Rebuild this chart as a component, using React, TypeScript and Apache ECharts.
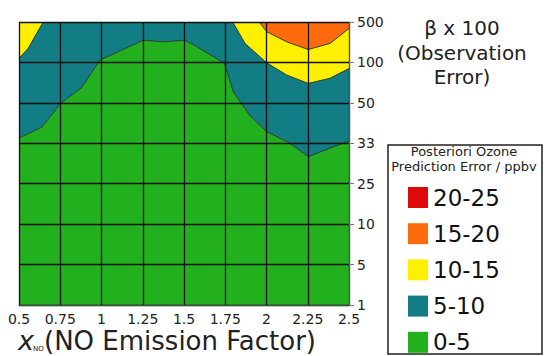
import React, { useEffect, useRef } from "react";
import * as echarts from "echarts";

// y tick labels (beta x 100), evenly spaced categories
const yTickLabels = ["1", "5", "10", "25", "33", "50", "100", "500"];
const legendLabels = ["20-25", "15-20", "10-15", "5-10", "0-5"];
const legendColors = ["#dc0a0a", "#ff6a0c", "#fff000", "#137d85", "#22b01e"];

// contour boundaries [x (NO emission factor), y (index on beta axis)]
const contour5: number[][] = [
  [0.5, 4.13], [0.639, 4.4], [0.753, 4.99], [0.88, 5.38], [0.991, 6.06],
  [1.253, 6.55], [1.375, 6.51], [1.506, 6.55], [1.577, 6.39], [1.745, 5.98],
  [1.799, 5.27], [1.9, 4.68], [2.001, 4.29], [2.142, 4.0], [2.253, 3.67],
  [2.385, 3.88], [2.5, 4.06],
];
const contour10Left: number[][] = [
  [0.5, 6.1], [0.556, 6.35], [0.607, 6.72], [0.647, 7],
];
const contour10Right: number[][] = [
  [1.795, 7], [1.87, 6.47], [2.001, 5.99], [2.122, 5.69], [2.253, 5.48],
  [2.385, 5.61], [2.5, 5.85],
];
const contour15: number[][] = [
  [1.956, 7], [2.001, 6.76], [2.122, 6.51], [2.253, 6.32], [2.385, 6.47],
  [2.5, 6.84],
];

const FONT = "DejaVu Sans";
const LINE = "#233023";

function area(name: string, data: number[][], color: string, origin: string, showLine: boolean) {
  return {
    type: "line",
    name,
    data,
    symbol: "none",
    showSymbol: false,
    smooth: false,
    lineStyle: { color: LINE, width: showLine ? 1 : 0, opacity: showLine ? 0.9 : 0 },
    itemStyle: { color },
    areaStyle: { color, opacity: 1, origin },
    z: 2,
    silent: true,
  };
}

export default function App() {
  const ref = useRef<HTMLDivElement>(null);
  useEffect(() => {
    document.body.style.margin = "0";
    const chart = echarts.init(ref.current!, null, { renderer: "svg" });
    const option: any = {
      animation: false,
      grid: { left: 19, right: 195, top: 22, bottom: 51, containLabel: false },
      xAxis: {
        type: "value",
        min: 0.5,
        max: 2.5,
        interval: 0.25,
        z: 10,
        axisLine: { show: true, lineStyle: { color: "#444", width: 1 } },
        axisTick: { show: false },
        axisLabel: { fontFamily: FONT, fontSize: 14, color: "#222", margin: 7 },
        splitLine: { show: true, lineStyle: { color: "#111", width: 1.3 } },
      },
      yAxis: {
        type: "value",
        min: 0,
        max: 7,
        interval: 1,
        position: "right",
        z: 10,
        axisLine: { show: true, lineStyle: { color: "#555", width: 1 } },
        axisTick: { show: true, length: 5, lineStyle: { color: "#777" } },
        axisLabel: {
          fontFamily: FONT,
          fontSize: 14,
          color: "#222",
          margin: 8,
          formatter: (v: number) => yTickLabels[Math.round(v)] ?? "",
        },
        splitLine: { show: true, lineStyle: { color: "#111", width: 1.3 } },
      },
      legend: {
        orient: "vertical",
        left: 408,
        top: 186,
        height: 190,
        padding: 0,
        itemWidth: 20,
        itemHeight: 21,
        itemGap: 13.2,
        icon: "rect",
        selectedMode: false,
        itemStyle: { borderWidth: 0 },
        textStyle: { fontFamily: FONT, fontSize: 23, lineHeight: 21, color: "#111" },
        data: legendLabels.map((n, i) => ({ name: n, itemStyle: { color: legendColors[i], borderWidth: 0 } })),
      },
      graphic: [
        {
          type: "rect",
          shape: { x: 388, y: 145, width: 154, height: 209 },
          style: { fill: "#fff", stroke: "#222", lineWidth: 1.5 },
          z: -1,
        },
        {
          type: "text",
          x: 464,
          y: 159,
          style: {
            text: "Posteriori Ozone\nPrediction Error / ppbv",
            fontFamily: FONT,
            fontSize: 13,
            lineHeight: 15.5,
            fill: "#222",
            align: "center",
            verticalAlign: "middle",
          },
          silent: true,
        },
        {
          type: "text",
          x: 462,
          y: 16,
          style: {
            text: "β x 100\n(Observation\nError)",
            fontFamily: FONT,
            fontSize: 20,
            lineHeight: 24.5,
            fill: "#222",
            align: "center",
            verticalAlign: "top",
          },
          silent: true,
        },
        {
          type: "text",
          x: 18,
          y: 354,
          style: { text: "x", fontFamily: FONT, fontSize: 27, fontStyle: "italic", fill: "#222", verticalAlign: "bottom" },
          silent: true,
        },
        {
          type: "text",
          x: 33,
          y: 352,
          style: { text: "NO", fontFamily: FONT, fontSize: 7, fill: "#222", verticalAlign: "bottom" },
          silent: true,
        },
        {
          type: "text",
          x: 44,
          y: 354,
          style: { text: "(NO Emission Factor)", fontFamily: FONT, fontSize: 26, fill: "#222", verticalAlign: "bottom" },
          silent: true,
        },
      ],
      series: [
        { type: "line", name: "20-25", data: [], itemStyle: { color: legendColors[0] } },
        area("0-5", contour5, legendColors[4], "start", false),
        area("5-10", contour5, legendColors[3], "end", true),
        area("10-15", contour10Left, legendColors[2], "end", true),
        area("10-15", contour10Right, legendColors[2], "end", true),
        area("15-20", contour15, legendColors[1], "end", true),
      ],
    };
    chart.setOption(option);
    return () => chart.dispose();
  }, []);
  return <div ref={ref} style={{ width: 544, height: 356 }} />;
}
